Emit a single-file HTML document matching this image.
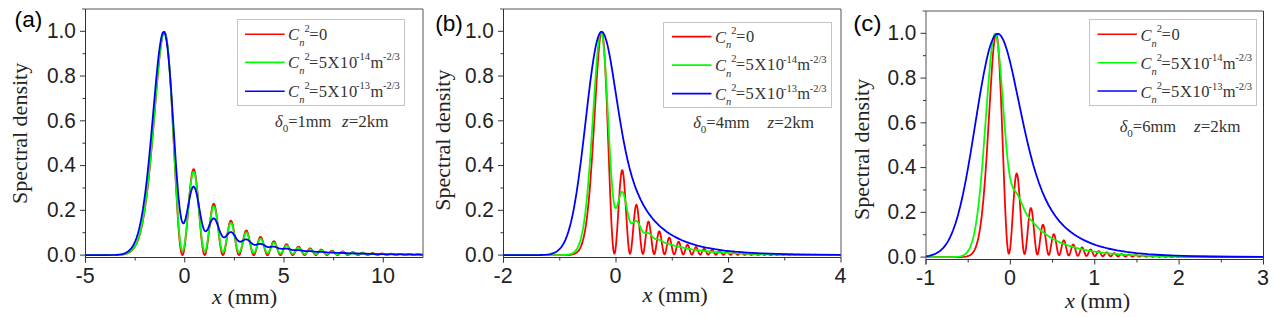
<!DOCTYPE html>
<html><head><meta charset="utf-8"><style>html,body{margin:0;padding:0;background:#fff;overflow:hidden;}svg{display:block;}</style></head>
<body>
<svg width="1276" height="317" viewBox="0 0 1276 317"><rect width="1276" height="317" fill="#fff"/><defs><clipPath id="clipa"><rect x="85.5" y="6.0" width="337.50" height="251.50"/></clipPath><clipPath id="clipb"><rect x="503.5" y="6.0" width="337.50" height="251.50"/></clipPath><clipPath id="clipc"><rect x="926.0" y="8.0" width="337.50" height="251.50"/></clipPath></defs>
<g clip-path="url(#clipa)" fill="none" stroke-width="1.8" stroke-linejoin="round">
<polyline stroke="#ff0000" points="85.50,255.10 108.50,255.09 116.50,254.97 119.50,254.82 122.00,254.59 124.00,254.28 126.00,253.79 128.00,253.05 130.00,251.94 131.50,250.78 133.00,249.24 134.50,247.22 136.00,244.62 137.50,241.29 138.50,238.60 139.50,235.47 140.50,231.87 141.50,227.73 142.50,223.00 144.50,211.64 146.50,197.47 148.50,180.35 150.50,160.35 152.50,137.92 157.50,78.04 159.50,57.06 161.00,44.51 162.00,38.22 162.50,35.81 163.00,33.94 163.50,32.64 164.00,31.93 164.50,31.84 165.00,32.40 165.50,33.62 166.00,35.52 166.50,38.11 167.50,45.35 168.00,50.00 169.00,61.28 170.00,75.04 171.50,99.65 176.00,186.53 178.00,220.47 179.00,233.92 180.00,244.33 180.50,248.28 181.00,251.34 181.50,253.50 182.00,254.75 182.50,255.09 183.00,254.55 183.50,253.14 184.00,250.91 185.00,244.23 186.50,229.78 189.50,194.78 190.50,184.58 191.50,176.51 192.00,173.48 192.50,171.22 193.00,169.75 193.50,169.13 194.00,169.36 194.50,170.44 195.00,172.36 196.00,178.55 197.50,192.70 200.50,228.35 201.50,238.87 202.50,247.21 203.00,250.35 203.50,252.73 204.00,254.29 204.50,255.04 205.00,254.95 205.50,254.07 206.00,252.42 206.50,250.08 207.50,243.62 210.50,218.19 211.50,211.05 212.00,208.24 212.50,206.07 213.00,204.59 213.50,203.84 214.00,203.86 214.50,204.63 215.00,206.13 215.50,208.33 216.00,211.15 217.00,218.32 219.50,239.71 220.50,247.00 221.50,252.23 222.00,253.89 222.50,254.85 223.00,255.09 223.50,254.63 224.00,253.50 224.50,251.75 225.00,249.46 226.00,243.65 228.00,230.44 229.00,225.05 229.50,223.04 230.00,221.60 230.50,220.77 231.00,220.59 231.50,221.07 232.00,222.18 232.50,223.88 233.00,226.11 234.00,231.78 236.00,244.82 237.00,250.23 237.50,252.29 238.00,253.82 238.50,254.76 239.00,255.10 239.50,254.83 240.00,253.98 240.50,252.60 241.00,250.77 242.00,246.09 243.50,238.27 244.50,233.91 245.00,232.29 245.50,231.15 246.00,230.54 246.50,230.49 247.00,230.99 247.50,232.03 248.50,235.48 251.00,247.86 252.00,251.99 252.50,253.49 253.00,254.52 253.50,255.04 254.00,255.04 254.50,254.53 255.00,253.55 256.00,250.44 258.00,242.29 259.00,238.95 259.50,237.79 260.00,237.07 260.50,236.81 261.00,237.03 261.50,237.71 262.00,238.82 262.50,240.30 265.00,250.08 266.00,253.22 266.50,254.27 267.00,254.91 267.50,255.10 268.00,254.85 268.50,254.19 269.00,253.16 270.00,250.27 271.50,245.27 272.50,242.63 273.00,241.76 273.50,241.27 274.00,241.18 274.50,241.51 275.00,242.21 275.50,243.27 276.50,246.13 278.00,251.03 279.00,253.62 279.50,254.47 280.00,254.97 280.50,255.09 281.00,254.84 281.50,254.24 282.00,253.33 284.50,246.84 285.00,245.77 285.50,244.95 286.00,244.44 286.50,244.27 287.00,244.46 287.50,244.98 288.00,245.80 288.50,246.87 291.00,253.23 291.50,254.13 292.00,254.75 292.50,255.07 293.00,255.05 293.50,254.72 294.00,254.10 294.50,253.25 297.00,247.94 297.50,247.21 298.00,246.74 298.50,246.56 299.00,246.68 299.50,247.09 300.00,247.76 303.00,253.83 303.50,254.51 304.00,254.94 304.50,255.10 305.00,254.98 305.50,254.59 306.00,253.97 308.50,249.58 309.00,248.92 309.50,248.48 310.00,248.28 310.50,248.34 311.00,248.66 311.50,249.20 312.00,249.93 314.00,253.49 314.50,254.20 315.00,254.72 315.50,255.03 316.00,255.09 316.50,254.92 317.00,254.52 317.50,253.95 319.50,250.93 320.00,250.32 320.50,249.87 321.00,249.63 321.50,249.60 322.00,249.81 322.50,250.21 323.00,250.79 325.00,253.75 325.50,254.35 326.00,254.79 326.50,255.05 327.00,255.09 327.50,254.93 328.00,254.58 328.50,254.08 330.50,251.55 331.00,251.07 331.50,250.75 332.00,250.61 332.50,250.67 333.00,250.91 334.00,251.86 336.00,254.32 336.50,254.74 337.00,255.01 337.50,255.10 338.00,255.01 338.50,254.75 339.50,253.84 341.00,252.22 342.00,251.53 342.50,251.41 343.00,251.46 343.50,251.68 344.00,252.04 346.50,254.55 347.00,254.88 347.50,255.06 348.00,255.09 348.50,254.96 349.00,254.69 351.50,252.53 352.50,252.08 353.00,252.06 353.50,252.19 354.00,252.45 356.50,254.57 357.50,255.05 358.00,255.10 359.00,254.79 361.50,252.95 362.50,252.58 363.00,252.58 364.00,252.94 366.50,254.74 367.50,255.09 368.50,254.96 369.00,254.74 371.50,253.19 372.50,252.98 373.50,253.20 375.50,254.44 376.50,254.95 377.50,255.10 378.50,254.84 381.00,253.51 382.00,253.32 383.00,253.51 385.50,254.82 386.50,255.09 387.50,255.00 390.00,253.88 391.00,253.61 391.50,253.60 392.50,253.82 395.00,254.94 396.00,255.10 397.00,254.94 399.50,253.96 400.50,253.82 401.50,253.98 404.00,254.95 405.00,255.10 406.00,254.97 408.50,254.13 409.50,254.02 410.50,254.16 412.50,254.85 413.50,255.08 414.50,255.06 417.50,254.24 418.50,254.18 419.50,254.35 421.50,254.95 423.00,255.09"/>
<polyline stroke="#00ff00" points="85.50,255.10 108.50,255.08 116.50,254.96 119.50,254.80 122.00,254.55 124.00,254.22 126.00,253.70 128.00,252.92 130.00,251.75 131.50,250.53 133.00,248.92 134.50,246.82 135.50,245.09 137.00,241.91 138.00,239.33 139.50,234.67 140.50,230.96 141.50,226.71 142.50,221.88 144.50,210.29 146.50,195.90 148.50,178.58 150.50,158.45 152.50,135.98 157.00,82.22 158.50,65.76 159.50,55.97 161.00,43.76 162.00,37.72 162.50,35.43 163.00,33.67 163.50,32.48 164.00,31.87 164.50,31.88 165.00,32.53 165.50,33.83 166.00,35.79 166.50,38.42 167.50,45.71 168.00,50.36 169.00,61.56 170.00,75.16 171.50,99.38 176.00,184.20 178.00,217.18 179.00,230.25 180.00,240.40 180.50,244.27 181.00,247.29 181.50,249.44 182.00,250.73 182.50,251.16 183.00,250.73 183.50,249.50 184.00,247.48 185.00,241.35 186.50,227.96 189.50,195.48 190.50,186.02 191.50,178.56 192.00,175.76 192.50,173.67 193.00,172.33 193.50,171.76 194.00,171.99 194.50,173.01 195.00,174.79 196.00,180.54 197.50,193.63 200.50,226.55 201.50,236.28 202.50,244.03 203.00,246.97 203.50,249.20 204.00,250.71 204.50,251.47 205.00,251.48 205.50,250.77 206.00,249.36 206.50,247.33 207.50,241.66 210.50,219.16 211.50,212.82 212.00,210.34 212.50,208.41 213.00,207.09 213.50,206.43 214.00,206.44 214.50,207.13 215.00,208.46 215.50,210.41 216.00,212.90 217.00,219.25 219.50,238.20 220.50,244.69 221.50,249.39 222.00,250.91 222.50,251.81 223.00,252.10 223.50,251.77 224.00,250.86 224.50,249.41 225.00,247.49 226.00,242.57 228.00,231.33 229.00,226.72 229.50,225.00 230.00,223.77 230.50,223.06 231.00,222.90 231.50,223.30 232.00,224.25 232.50,225.69 233.00,227.59 234.00,232.43 236.00,243.58 237.00,248.24 237.50,250.03 238.00,251.37 238.50,252.23 239.00,252.57 239.50,252.40 240.00,251.75 240.50,250.65 241.00,249.17 242.00,245.35 243.50,238.92 244.50,235.32 245.00,233.98 245.50,233.04 246.00,232.53 246.50,232.48 247.00,232.89 247.50,233.74 248.00,234.99 249.00,238.44 251.50,248.68 252.50,251.54 253.00,252.43 253.50,252.90 254.00,252.95 254.50,252.59 255.00,251.84 256.00,249.41 258.00,242.92 259.00,240.25 259.50,239.32 260.00,238.74 260.50,238.52 261.00,238.69 261.50,239.24 262.00,240.12 263.00,242.72 265.50,250.55 266.00,251.71 266.50,252.58 267.00,253.12 267.50,253.31 268.00,253.16 268.50,252.68 269.00,251.90 270.00,249.70 271.50,245.83 272.50,243.78 273.00,243.10 273.50,242.72 274.00,242.65 274.50,242.89 275.00,243.44 275.50,244.25 276.50,246.48 278.00,250.31 279.00,252.35 279.50,253.04 280.00,253.46 280.50,253.59 281.00,253.43 281.50,253.00 282.00,252.33 284.50,247.48 285.00,246.67 285.50,246.05 286.00,245.66 286.50,245.53 287.00,245.66 287.50,246.05 288.00,246.67 288.50,247.48 291.00,252.32 291.50,253.02 292.00,253.52 292.50,253.78 293.00,253.80 293.50,253.58 294.00,253.15 295.00,251.79 297.00,248.66 297.50,248.12 298.00,247.77 298.50,247.63 299.00,247.72 299.50,248.02 300.00,248.51 303.00,253.01 303.50,253.53 304.00,253.87 304.50,254.01 305.00,253.94 305.50,253.68 306.00,253.26 308.50,250.14 309.50,249.34 310.00,249.20 310.50,249.24 311.00,249.47 311.50,249.85 314.50,253.47 315.00,253.87 315.50,254.10 316.00,254.17 316.50,254.06 317.50,253.41 320.00,250.89 320.50,250.58 321.00,250.41 321.50,250.39 322.00,250.53 323.00,251.21 325.50,253.74 326.50,254.25 327.00,254.30 327.50,254.21 328.50,253.65 330.00,252.34 331.00,251.61 332.00,251.29 332.50,251.33 333.50,251.77 336.00,253.84 337.00,254.34 337.50,254.41 338.50,254.21 339.50,253.62 341.00,252.54 342.00,252.08 342.50,252.00 343.00,252.03 344.00,252.41 346.00,253.81 347.00,254.34 348.00,254.51 349.00,254.27 351.50,252.88 352.50,252.58 353.00,252.56 354.00,252.82 357.00,254.42 358.00,254.59 359.00,254.41 361.50,253.26 362.50,253.02 363.00,253.01 364.00,253.24 366.50,254.41 367.50,254.65 368.50,254.59 371.50,253.50 372.50,253.36 373.50,253.50 376.50,254.61 377.50,254.72 378.50,254.57 381.00,253.77 382.00,253.65 383.00,253.77 385.50,254.58 386.50,254.76 387.50,254.72 390.00,254.06 391.50,253.89 392.50,254.02 395.00,254.71 396.00,254.81 397.00,254.73 399.50,254.16 400.50,254.08 401.50,254.17 404.00,254.75 405.00,254.85 406.00,254.78 408.50,254.30 409.50,254.24 410.50,254.32 413.50,254.86 414.50,254.86 417.50,254.41 418.50,254.37 422.00,254.87 423.00,254.90"/>
<polyline stroke="#0000ff" points="85.50,255.10 106.50,255.08 114.50,254.93 117.50,254.75 120.00,254.47 122.00,254.11 124.00,253.56 126.00,252.75 128.00,251.55 129.50,250.31 131.00,248.70 132.50,246.63 134.00,243.98 135.50,240.65 136.50,237.98 138.00,233.20 139.00,229.43 141.00,220.34 143.00,208.91 145.00,194.91 147.00,178.26 149.00,159.10 151.00,137.84 156.00,81.42 157.50,65.97 158.50,56.72 160.00,45.03 161.00,39.04 162.00,34.73 162.50,33.27 163.00,32.30 163.50,31.84 164.00,31.90 164.50,32.51 165.00,33.66 165.50,35.36 166.50,40.43 167.00,43.79 168.00,52.09 169.50,68.21 171.00,88.04 176.00,164.92 178.00,191.56 179.50,206.95 180.50,214.52 181.50,219.77 182.00,221.52 182.50,222.69 183.00,223.31 183.50,223.39 184.00,222.96 184.50,222.06 185.50,219.03 187.00,212.17 190.00,196.06 191.00,191.72 192.00,188.57 192.50,187.52 193.00,186.86 193.50,186.60 194.00,186.74 194.50,187.29 195.00,188.23 195.50,189.54 196.50,193.20 197.50,197.98 200.50,215.21 202.00,222.88 203.00,226.83 203.50,228.36 204.00,229.58 204.50,230.48 205.00,231.05 205.50,231.30 206.00,231.26 206.50,230.93 207.00,230.36 208.00,228.60 210.50,222.61 211.50,220.50 212.50,219.03 213.00,218.60 213.50,218.39 214.00,218.41 214.50,218.68 215.00,219.17 215.50,219.88 216.50,221.89 217.50,224.48 220.00,231.69 221.50,235.12 222.50,236.60 223.00,237.05 223.50,237.32 224.00,237.41 224.50,237.32 225.00,237.08 226.00,236.24 228.00,233.87 229.00,232.84 230.00,232.18 230.50,232.03 231.00,232.03 231.50,232.16 232.00,232.44 233.00,233.37 234.00,234.72 236.50,238.75 237.50,240.11 238.50,241.10 239.50,241.64 240.00,241.74 241.00,241.63 242.00,241.20 244.50,239.73 245.50,239.39 246.50,239.37 247.50,239.68 248.50,240.32 252.00,243.57 253.00,244.27 254.00,244.71 254.50,244.82 255.50,244.84 256.50,244.65 259.00,243.90 260.00,243.77 261.00,243.84 262.50,244.34 266.50,246.62 268.00,247.07 269.50,247.12 272.50,246.70 274.00,246.68 275.50,246.97 279.00,248.30 280.50,248.70 282.00,248.84 285.50,248.64 287.00,248.70 288.50,248.97 292.00,249.87 293.50,250.08 299.00,250.11 304.50,250.99 306.00,251.09 310.50,251.15 316.50,251.81 321.50,251.92 327.50,252.42 332.50,252.53 338.00,252.89 343.00,253.00 348.50,253.27 378.00,254.03 423.00,254.62"/>
</g>
<line x1="82.0" y1="9.0" x2="423.0" y2="9.0" stroke="#555" stroke-width="1"/>
<line x1="423.0" y1="9.0" x2="423.0" y2="257.5" stroke="#555" stroke-width="1"/>
<line x1="85.5" y1="9.0" x2="85.5" y2="262.5" stroke="#333" stroke-width="1"/>
<line x1="85.5" y1="257.5" x2="423.0" y2="257.5" stroke="#333" stroke-width="1"/>
<line x1="80.0" y1="255.10" x2="85.5" y2="255.10" stroke="#333" stroke-width="1"/>
<text x="0" y="0" font-family="Liberation Sans" font-size="22.5" fill="#222" text-anchor="end" transform="translate(75.90 261.85) scale(0.925 1)">0.0</text>
<line x1="82.5" y1="232.72" x2="85.5" y2="232.72" stroke="#333" stroke-width="1"/>
<line x1="80.0" y1="210.34" x2="85.5" y2="210.34" stroke="#333" stroke-width="1"/>
<text x="0" y="0" font-family="Liberation Sans" font-size="22.5" fill="#222" text-anchor="end" transform="translate(75.90 217.09) scale(0.925 1)">0.2</text>
<line x1="82.5" y1="187.96" x2="85.5" y2="187.96" stroke="#333" stroke-width="1"/>
<line x1="80.0" y1="165.58" x2="85.5" y2="165.58" stroke="#333" stroke-width="1"/>
<text x="0" y="0" font-family="Liberation Sans" font-size="22.5" fill="#222" text-anchor="end" transform="translate(75.90 172.33) scale(0.925 1)">0.4</text>
<line x1="82.5" y1="143.20" x2="85.5" y2="143.20" stroke="#333" stroke-width="1"/>
<line x1="80.0" y1="120.82" x2="85.5" y2="120.82" stroke="#333" stroke-width="1"/>
<text x="0" y="0" font-family="Liberation Sans" font-size="22.5" fill="#222" text-anchor="end" transform="translate(75.90 127.57) scale(0.925 1)">0.6</text>
<line x1="82.5" y1="98.44" x2="85.5" y2="98.44" stroke="#333" stroke-width="1"/>
<line x1="80.0" y1="76.06" x2="85.5" y2="76.06" stroke="#333" stroke-width="1"/>
<text x="0" y="0" font-family="Liberation Sans" font-size="22.5" fill="#222" text-anchor="end" transform="translate(75.90 82.81) scale(0.925 1)">0.8</text>
<line x1="82.5" y1="53.68" x2="85.5" y2="53.68" stroke="#333" stroke-width="1"/>
<line x1="80.0" y1="31.30" x2="85.5" y2="31.30" stroke="#333" stroke-width="1"/>
<text x="0" y="0" font-family="Liberation Sans" font-size="22.5" fill="#222" text-anchor="end" transform="translate(75.90 38.05) scale(0.925 1)">1.0</text>
<line x1="85.50" y1="257.5" x2="85.50" y2="262.5" stroke="#333" stroke-width="1"/>
<line x1="184.76" y1="257.5" x2="184.76" y2="262.5" stroke="#333" stroke-width="1"/>
<line x1="284.03" y1="257.5" x2="284.03" y2="262.5" stroke="#333" stroke-width="1"/>
<line x1="383.29" y1="257.5" x2="383.29" y2="262.5" stroke="#333" stroke-width="1"/>
<line x1="135.13" y1="257.5" x2="135.13" y2="260.5" stroke="#333" stroke-width="1"/>
<line x1="234.40" y1="257.5" x2="234.40" y2="260.5" stroke="#333" stroke-width="1"/>
<line x1="333.66" y1="257.5" x2="333.66" y2="260.5" stroke="#333" stroke-width="1"/>
<text x="85.10" y="282.80" font-family="Liberation Sans" font-size="21.5" fill="#222" text-anchor="middle">-5</text>
<text x="184.36" y="282.80" font-family="Liberation Sans" font-size="21.5" fill="#222" text-anchor="middle">0</text>
<text x="283.63" y="282.80" font-family="Liberation Sans" font-size="21.5" fill="#222" text-anchor="middle">5</text>
<text x="382.89" y="282.80" font-family="Liberation Sans" font-size="21.5" fill="#222" text-anchor="middle">10</text>
<text x="0" y="0" font-family="Liberation Sans" font-size="22" transform="translate(14.6 27.0) scale(1.03 1)">(a)</text>
<text x="0" y="0" font-family="Liberation Serif" font-size="22" fill="#222" text-anchor="middle" transform="translate(27.2 133.4) rotate(-90)">Spectral density</text>
<text x="0" y="0" font-family="Liberation Serif" font-size="22" fill="#222" transform="translate(212.0 304.1) scale(1.015 1)"><tspan font-style="italic">x</tspan> (mm)</text>
<rect x="237.5" y="19.5" width="167.00" height="86.00" fill="#fff" stroke="#c4c4c4" stroke-width="1"/>
<line x1="245" y1="34.3" x2="284.7" y2="34.3" stroke="#ff0000" stroke-width="1.6"/>
<text font-family="Liberation Serif" font-size="16.5" fill="#333"><tspan font-style="italic" x="288.08" y="40.30">C</tspan><tspan font-style="italic" font-size="10.5" x="299.22" y="46.10">n</tspan><tspan font-size="10.5" x="304.54" y="31.50">2</tspan><tspan x="309.28" y="39.60" letter-spacing="0.55">=0</tspan></text>
<line x1="245" y1="62.4" x2="284.7" y2="62.4" stroke="#00ff00" stroke-width="1.6"/>
<text font-family="Liberation Serif" font-size="16.5" fill="#333"><tspan font-style="italic" x="288.08" y="68.40">C</tspan><tspan font-style="italic" font-size="10.5" x="299.22" y="74.20">n</tspan><tspan font-size="10.5" x="304.54" y="59.60">2</tspan><tspan x="308.98" y="67.70" letter-spacing="0.55">=5X10</tspan><tspan font-size="10.5" x="356.11" y="60.40">-14</tspan><tspan x="370.45" y="67.70">m</tspan><tspan font-size="10.5" x="382.91" y="60.40">-2/3</tspan></text>
<line x1="245" y1="91.3" x2="284.7" y2="91.3" stroke="#0000ff" stroke-width="1.6"/>
<text font-family="Liberation Serif" font-size="16.5" fill="#333"><tspan font-style="italic" x="288.08" y="97.30">C</tspan><tspan font-style="italic" font-size="10.5" x="299.22" y="103.10">n</tspan><tspan font-size="10.5" x="304.54" y="88.50">2</tspan><tspan x="308.98" y="96.60" letter-spacing="0.55">=5X10</tspan><tspan font-size="10.5" x="356.11" y="89.30">-13</tspan><tspan x="370.45" y="96.60">m</tspan><tspan font-size="10.5" x="382.91" y="89.30">-2/3</tspan></text>
<text x="275.0" y="126.8" font-family="Liberation Serif" font-size="16.5" fill="#333"><tspan font-style="italic">δ</tspan><tspan font-size="11" dy="5">0</tspan><tspan dy="-5">=1mm</tspan></text>
<text x="0" y="0" font-family="Liberation Serif" font-size="16.5" fill="#333" transform="translate(342.0 126.8) scale(1.035 1)"><tspan font-style="italic">z</tspan>=2km</text>
<g clip-path="url(#clipb)" fill="none" stroke-width="1.8" stroke-linejoin="round">
<polyline stroke="#ff0000" points="503.50,255.10 562.00,255.09 567.00,255.01 570.50,254.78 572.50,254.45 574.00,254.03 575.50,253.37 577.00,252.34 578.00,251.37 579.00,250.10 580.00,248.45 581.00,246.34 582.00,243.66 583.00,240.29 584.00,236.10 585.00,230.95 586.00,224.71 587.00,217.24 588.50,203.46 590.00,186.38 592.00,158.49 597.00,75.00 598.50,53.40 599.50,42.31 600.00,38.08 600.50,34.86 601.00,32.75 601.50,31.83 602.00,32.18 602.50,33.85 603.00,36.89 603.50,41.31 604.00,47.10 605.00,62.72 606.50,95.01 610.00,189.71 611.50,224.28 612.50,240.86 613.00,246.71 613.50,250.81 614.00,253.11 614.50,253.60 615.00,252.33 615.50,249.42 616.00,244.99 617.00,232.45 619.00,200.27 620.00,185.60 621.00,175.03 621.50,171.85 622.00,170.26 622.50,170.35 623.00,172.12 623.50,175.49 624.00,180.36 625.00,193.71 627.00,226.65 628.00,240.85 628.50,246.30 629.00,250.36 629.50,252.87 630.00,253.77 630.50,253.08 631.00,250.89 631.50,247.36 632.50,237.30 634.00,219.59 635.00,210.10 635.50,206.96 636.00,205.15 636.50,204.79 637.00,205.90 637.50,208.41 638.00,212.17 639.00,222.47 640.50,240.02 641.50,249.12 642.00,252.04 642.50,253.65 643.00,253.89 643.50,252.80 644.00,250.49 644.50,247.18 646.50,229.92 647.00,226.30 647.50,223.56 648.00,221.91 648.50,221.48 649.00,222.29 649.50,224.29 650.50,231.12 652.50,248.03 653.00,251.07 653.50,253.13 654.00,254.07 654.50,253.86 655.00,252.56 655.50,250.31 657.50,237.18 658.00,234.41 658.50,232.41 659.00,231.36 659.50,231.35 660.00,232.37 660.50,234.34 661.00,237.07 662.50,247.09 663.00,250.04 663.50,252.33 664.00,253.78 664.50,254.28 665.00,253.81 665.50,252.46 666.00,250.39 668.00,240.14 668.50,238.47 669.00,237.59 669.50,237.59 670.00,238.46 670.50,240.11 672.50,250.21 673.00,252.28 673.50,253.71 674.00,254.37 674.50,254.20 675.00,253.26 675.50,251.69 677.50,243.57 678.00,242.33 678.50,241.77 679.00,241.96 679.50,242.87 680.00,244.40 682.00,252.42 682.50,253.74 683.00,254.42 683.50,254.41 684.00,253.74 684.50,252.51 686.00,247.42 686.50,246.02 687.00,245.10 687.50,244.78 688.00,245.09 688.50,246.00 689.00,247.37 690.50,252.39 691.00,253.64 691.50,254.40 692.00,254.58 692.50,254.18 693.00,253.27 695.00,248.00 695.50,247.24 696.00,246.99 696.50,247.28 697.00,248.07 699.00,253.28 699.50,254.18 700.00,254.63 700.50,254.57 701.00,254.04 701.50,253.13 703.00,249.75 703.50,249.00 704.00,248.66 704.50,248.78 705.00,249.34 705.50,250.26 707.00,253.58 707.50,254.33 708.00,254.70 708.50,254.63 709.00,254.17 711.00,250.63 711.50,250.08 712.00,249.91 712.50,250.13 713.00,250.71 715.00,254.20 715.50,254.66 716.00,254.77 716.50,254.51 717.00,253.94 718.50,251.62 719.00,251.10 719.50,250.89 720.00,251.02 720.50,251.46 722.50,254.35 723.00,254.74 723.50,254.81 724.00,254.57 724.50,254.08 726.00,252.15 726.50,251.77 727.00,251.66 727.50,251.84 728.00,252.27 729.50,254.19 730.00,254.64 730.50,254.85 731.00,254.78 731.50,254.47 733.00,252.85 733.50,252.45 734.00,252.27 734.50,252.34 735.00,252.64 736.50,254.23 737.00,254.65 737.50,254.87 738.00,254.85 738.50,254.61 740.00,253.25 740.50,252.91 741.00,252.75 741.50,252.81 742.00,253.08 743.50,254.43 744.00,254.76 744.50,254.91 745.00,254.86 745.50,254.62 747.00,253.46 747.50,253.22 748.00,253.14 748.50,253.26 749.00,253.53 750.50,254.67 751.00,254.89 751.50,254.93 752.00,254.81 752.50,254.54 754.00,253.59 754.50,253.46 755.00,253.50 755.50,253.70 757.00,254.67 757.50,254.88 758.00,254.96 758.50,254.88 760.50,253.85 761.00,253.73 761.50,253.75 762.00,253.90 763.50,254.73 764.00,254.92 764.50,254.98 765.00,254.90 766.50,254.22 767.50,253.94 768.50,254.12 770.00,254.83 771.00,254.99 771.50,254.89 773.00,254.29 774.00,254.11 775.00,254.35 776.50,254.93 777.00,255.00 777.50,254.97 779.50,254.33 780.00,254.26 781.00,254.40 782.50,254.92 783.00,255.01 784.00,254.92 786.00,254.39 787.00,254.48 789.00,255.01 790.00,254.95 792.00,254.49 793.00,254.57 795.00,255.03 796.00,254.96 798.00,254.57 799.00,254.67 801.00,255.04 804.00,254.65 807.00,255.05 809.50,254.71 812.50,255.05 815.50,254.76 818.00,255.05 821.00,254.81 823.50,255.06 826.50,254.85 829.00,255.06 832.00,254.88 834.50,255.07 837.50,254.91 840.00,255.07 841.00,255.04"/>
<polyline stroke="#00ff00" points="503.50,255.10 558.50,255.09 564.00,254.99 567.50,254.73 569.50,254.40 571.00,253.98 572.50,253.33 574.00,252.36 575.50,250.92 576.50,249.62 577.50,247.96 578.50,245.88 580.00,241.76 581.00,238.21 582.00,233.89 583.00,228.71 584.00,222.55 585.00,215.30 586.50,202.24 588.00,186.41 590.00,161.07 591.50,139.40 595.00,85.41 597.00,58.07 598.00,47.13 599.00,38.79 599.50,35.75 600.00,33.54 600.50,32.21 601.00,31.80 601.50,32.34 602.00,33.85 602.50,36.33 603.50,44.17 604.50,55.63 605.50,70.27 606.50,87.42 609.50,144.88 611.00,170.78 612.50,190.80 613.50,199.99 614.00,203.26 614.50,205.65 615.00,207.22 615.50,208.00 616.00,208.07 616.50,207.53 617.00,206.46 617.50,204.98 619.50,197.30 620.50,193.98 621.00,192.79 621.50,192.00 622.00,191.66 622.50,191.79 623.00,192.40 623.50,193.46 624.50,196.85 625.50,201.50 628.00,214.53 629.00,218.67 630.00,221.55 630.50,222.49 631.00,223.08 631.50,223.38 632.00,223.40 632.50,223.21 633.00,222.86 634.50,221.46 635.50,220.83 636.00,220.75 636.50,220.85 637.00,221.16 637.50,221.67 638.50,223.23 641.50,229.71 642.50,231.41 643.00,232.04 643.50,232.51 644.50,233.04 645.50,233.12 647.50,232.92 648.50,233.10 649.00,233.32 649.50,233.63 650.50,234.51 653.50,237.80 655.00,238.86 656.00,239.22 658.50,239.56 659.50,239.81 661.00,240.50 663.50,242.11 665.00,242.88 666.50,243.34 670.00,244.05 673.50,245.42 675.00,245.91 679.50,246.78 684.00,247.96 693.00,249.53 702.00,250.75 709.00,251.51 716.50,252.16 730.50,253.08 744.50,253.70 762.00,254.21 783.00,254.58 808.50,254.83 841.00,254.98"/>
<polyline stroke="#0000ff" points="503.50,255.10 531.00,255.09 540.00,255.00 543.50,254.87 546.50,254.64 549.00,254.31 551.00,253.91 553.50,253.13 555.50,252.21 557.50,250.93 559.50,249.18 561.00,247.47 562.50,245.35 564.00,242.75 565.50,239.61 567.00,235.83 568.50,231.36 570.00,226.10 571.00,222.14 572.50,215.45 574.00,207.85 576.50,193.11 578.50,179.49 581.00,160.43 583.50,139.64 588.50,96.41 590.50,80.11 592.50,65.35 594.50,52.72 595.50,47.39 596.50,42.77 598.00,37.31 599.00,34.68 600.00,32.90 600.50,32.32 601.00,31.96 601.50,31.81 602.00,31.86 602.50,32.12 603.00,32.59 604.00,34.12 605.00,36.40 606.50,41.16 607.50,45.13 608.50,49.67 610.00,57.39 612.00,69.00 619.50,117.06 623.00,137.57 625.50,150.49 627.50,159.71 629.50,167.94 632.00,176.97 634.50,184.75 636.00,188.90 637.50,192.70 640.50,199.44 643.50,205.22 647.00,210.99 649.00,213.90 651.00,216.58 653.00,219.04 655.00,221.32 657.00,223.43 659.50,225.85 662.00,228.06 664.50,230.07 667.00,231.92 670.00,233.93 673.00,235.76 676.00,237.40 679.00,238.90 682.50,240.47 686.00,241.87 689.50,243.13 693.50,244.41 697.50,245.55 701.50,246.56 706.00,247.56 715.00,249.21 724.50,250.54 735.50,251.70 747.50,252.62 761.00,253.36 776.50,253.93 794.00,254.35 815.00,254.66 841.00,254.87"/>
</g>
<line x1="500.0" y1="9.0" x2="841.0" y2="9.0" stroke="#555" stroke-width="1"/>
<line x1="841.0" y1="9.0" x2="841.0" y2="257.5" stroke="#555" stroke-width="1"/>
<line x1="503.5" y1="9.0" x2="503.5" y2="262.5" stroke="#333" stroke-width="1"/>
<line x1="503.5" y1="257.5" x2="841.0" y2="257.5" stroke="#333" stroke-width="1"/>
<line x1="498.0" y1="255.10" x2="503.5" y2="255.10" stroke="#333" stroke-width="1"/>
<text x="0" y="0" font-family="Liberation Sans" font-size="22.5" fill="#222" text-anchor="end" transform="translate(493.90 261.85) scale(0.925 1)">0.0</text>
<line x1="500.5" y1="232.72" x2="503.5" y2="232.72" stroke="#333" stroke-width="1"/>
<line x1="498.0" y1="210.34" x2="503.5" y2="210.34" stroke="#333" stroke-width="1"/>
<text x="0" y="0" font-family="Liberation Sans" font-size="22.5" fill="#222" text-anchor="end" transform="translate(493.90 217.09) scale(0.925 1)">0.2</text>
<line x1="500.5" y1="187.96" x2="503.5" y2="187.96" stroke="#333" stroke-width="1"/>
<line x1="498.0" y1="165.58" x2="503.5" y2="165.58" stroke="#333" stroke-width="1"/>
<text x="0" y="0" font-family="Liberation Sans" font-size="22.5" fill="#222" text-anchor="end" transform="translate(493.90 172.33) scale(0.925 1)">0.4</text>
<line x1="500.5" y1="143.20" x2="503.5" y2="143.20" stroke="#333" stroke-width="1"/>
<line x1="498.0" y1="120.82" x2="503.5" y2="120.82" stroke="#333" stroke-width="1"/>
<text x="0" y="0" font-family="Liberation Sans" font-size="22.5" fill="#222" text-anchor="end" transform="translate(493.90 127.57) scale(0.925 1)">0.6</text>
<line x1="500.5" y1="98.44" x2="503.5" y2="98.44" stroke="#333" stroke-width="1"/>
<line x1="498.0" y1="76.06" x2="503.5" y2="76.06" stroke="#333" stroke-width="1"/>
<text x="0" y="0" font-family="Liberation Sans" font-size="22.5" fill="#222" text-anchor="end" transform="translate(493.90 82.81) scale(0.925 1)">0.8</text>
<line x1="500.5" y1="53.68" x2="503.5" y2="53.68" stroke="#333" stroke-width="1"/>
<line x1="498.0" y1="31.30" x2="503.5" y2="31.30" stroke="#333" stroke-width="1"/>
<text x="0" y="0" font-family="Liberation Sans" font-size="22.5" fill="#222" text-anchor="end" transform="translate(493.90 38.05) scale(0.925 1)">1.0</text>
<line x1="503.50" y1="257.5" x2="503.50" y2="262.5" stroke="#333" stroke-width="1"/>
<line x1="616.00" y1="257.5" x2="616.00" y2="262.5" stroke="#333" stroke-width="1"/>
<line x1="728.50" y1="257.5" x2="728.50" y2="262.5" stroke="#333" stroke-width="1"/>
<line x1="841.00" y1="257.5" x2="841.00" y2="262.5" stroke="#333" stroke-width="1"/>
<line x1="559.75" y1="257.5" x2="559.75" y2="260.5" stroke="#333" stroke-width="1"/>
<line x1="672.25" y1="257.5" x2="672.25" y2="260.5" stroke="#333" stroke-width="1"/>
<line x1="784.75" y1="257.5" x2="784.75" y2="260.5" stroke="#333" stroke-width="1"/>
<text x="503.10" y="282.80" font-family="Liberation Sans" font-size="21.5" fill="#222" text-anchor="middle">-2</text>
<text x="615.60" y="282.80" font-family="Liberation Sans" font-size="21.5" fill="#222" text-anchor="middle">0</text>
<text x="728.10" y="282.80" font-family="Liberation Sans" font-size="21.5" fill="#222" text-anchor="middle">2</text>
<text x="840.60" y="282.80" font-family="Liberation Sans" font-size="21.5" fill="#222" text-anchor="middle">4</text>
<text x="0" y="0" font-family="Liberation Sans" font-size="22" transform="translate(435.2 31.4) scale(1.03 1)">(b)</text>
<text x="0" y="0" font-family="Liberation Serif" font-size="22" fill="#222" text-anchor="middle" transform="translate(449.5 140.1) rotate(-90)">Spectral density</text>
<text x="0" y="0" font-family="Liberation Serif" font-size="22" fill="#222" transform="translate(642.6 301.9) scale(1.015 1)"><tspan font-style="italic">x</tspan> (mm)</text>
<rect x="663.5" y="22.5" width="168.00" height="85.00" fill="#fff" stroke="#c4c4c4" stroke-width="1"/>
<line x1="672" y1="36.6" x2="711.5" y2="36.6" stroke="#ff0000" stroke-width="1.6"/>
<text font-family="Liberation Serif" font-size="16.5" fill="#333"><tspan font-style="italic" x="714.88" y="42.60">C</tspan><tspan font-style="italic" font-size="10.5" x="726.02" y="48.40">n</tspan><tspan font-size="10.5" x="731.34" y="33.80">2</tspan><tspan x="736.07" y="41.90" letter-spacing="0.55">=0</tspan></text>
<line x1="672" y1="65.1" x2="711.5" y2="65.1" stroke="#00ff00" stroke-width="1.6"/>
<text font-family="Liberation Serif" font-size="16.5" fill="#333"><tspan font-style="italic" x="714.88" y="71.10">C</tspan><tspan font-style="italic" font-size="10.5" x="726.02" y="76.90">n</tspan><tspan font-size="10.5" x="731.34" y="62.30">2</tspan><tspan x="735.77" y="70.40" letter-spacing="0.55">=5X10</tspan><tspan font-size="10.5" x="782.91" y="63.10">-14</tspan><tspan x="797.25" y="70.40">m</tspan><tspan font-size="10.5" x="809.71" y="63.10">-2/3</tspan></text>
<line x1="672" y1="93.6" x2="711.5" y2="93.6" stroke="#0000ff" stroke-width="1.6"/>
<text font-family="Liberation Serif" font-size="16.5" fill="#333"><tspan font-style="italic" x="714.88" y="99.60">C</tspan><tspan font-style="italic" font-size="10.5" x="726.02" y="105.40">n</tspan><tspan font-size="10.5" x="731.34" y="90.80">2</tspan><tspan x="735.77" y="98.90" letter-spacing="0.55">=5X10</tspan><tspan font-size="10.5" x="782.91" y="91.60">-13</tspan><tspan x="797.25" y="98.90">m</tspan><tspan font-size="10.5" x="809.71" y="91.60">-2/3</tspan></text>
<text x="693.2" y="128.3" font-family="Liberation Serif" font-size="16.5" fill="#333"><tspan font-style="italic">δ</tspan><tspan font-size="11" dy="5">0</tspan><tspan dy="-5">=4mm</tspan></text>
<text x="0" y="0" font-family="Liberation Serif" font-size="16.5" fill="#333" transform="translate(767.5 128.3) scale(1.035 1)"><tspan font-style="italic">z</tspan>=2km</text>
<g clip-path="url(#clipc)" fill="none" stroke-width="1.8" stroke-linejoin="round">
<polyline stroke="#ff0000" points="926.00,257.10 959.50,257.05 964.00,256.85 967.00,256.40 968.50,255.95 970.00,255.25 971.50,254.16 972.50,253.14 973.50,251.80 974.50,250.08 975.50,247.87 976.50,245.08 977.50,241.58 978.50,237.24 980.00,228.88 981.00,221.86 982.00,213.53 983.50,198.39 985.00,179.93 986.50,158.29 991.00,83.11 992.50,60.51 993.50,48.30 994.50,39.35 995.00,36.36 995.50,34.49 996.00,33.80 996.50,34.38 997.00,36.26 997.50,39.50 998.00,44.09 998.50,50.05 999.50,65.88 1001.00,98.23 1004.50,191.70 1005.50,215.29 1006.50,234.23 1007.00,241.51 1007.50,247.15 1008.00,251.08 1008.50,253.25 1009.00,253.66 1009.50,252.38 1010.00,249.50 1010.50,245.17 1011.50,232.99 1013.50,201.98 1014.50,187.95 1015.00,182.32 1015.50,177.92 1016.00,174.94 1016.50,173.50 1017.00,173.67 1017.50,175.44 1018.00,178.75 1018.50,183.48 1019.50,196.37 1021.50,228.00 1022.50,241.61 1023.00,246.84 1023.50,250.73 1024.00,253.16 1024.50,254.06 1025.00,253.44 1025.50,251.41 1026.00,248.11 1027.00,238.66 1028.50,222.01 1029.50,213.07 1030.00,210.10 1030.50,208.39 1031.00,208.04 1031.50,209.06 1032.00,211.40 1032.50,214.91 1033.50,224.57 1035.00,241.09 1036.00,249.73 1036.50,252.55 1037.00,254.15 1037.50,254.48 1038.00,253.56 1038.50,251.51 1039.00,248.50 1041.00,232.61 1041.50,229.22 1042.00,226.64 1042.50,225.05 1043.00,224.58 1043.50,225.26 1044.00,227.03 1044.50,229.76 1047.00,248.92 1047.50,251.81 1048.00,253.82 1048.50,254.82 1049.00,254.76 1049.50,253.69 1050.00,251.74 1050.50,249.12 1052.00,239.88 1052.50,237.31 1053.00,235.41 1053.50,234.36 1054.00,234.24 1054.50,235.08 1055.00,236.78 1055.50,239.18 1057.50,251.03 1058.00,253.21 1058.50,254.65 1059.00,255.25 1059.50,254.97 1060.00,253.89 1060.50,252.13 1062.50,242.95 1063.00,241.37 1063.50,240.47 1064.00,240.35 1064.50,241.01 1065.00,242.39 1067.50,253.33 1068.00,254.73 1068.50,255.46 1069.00,255.46 1069.50,254.76 1070.00,253.48 1072.00,246.31 1072.50,245.12 1073.00,244.51 1073.50,244.55 1074.00,245.24 1074.50,246.49 1075.00,248.16 1076.50,253.61 1077.00,254.88 1077.50,255.62 1078.00,255.76 1078.50,255.31 1079.00,254.35 1081.00,248.69 1081.50,247.78 1082.00,247.38 1082.50,247.53 1083.00,248.21 1083.50,249.33 1085.00,253.71 1085.50,254.90 1086.00,255.69 1086.50,255.98 1087.00,255.77 1087.50,255.10 1089.50,250.59 1090.00,249.84 1090.50,249.51 1091.00,249.64 1091.50,250.21 1092.00,251.14 1093.50,254.66 1094.00,255.54 1094.50,256.04 1095.00,256.13 1095.50,255.80 1096.00,255.11 1097.50,252.25 1098.00,251.53 1098.50,251.13 1099.00,251.12 1099.50,251.49 1100.00,252.19 1101.50,255.04 1102.00,255.77 1102.50,256.20 1103.00,256.27 1103.50,255.99 1104.00,255.41 1105.50,253.08 1106.00,252.54 1106.50,252.29 1107.00,252.37 1107.50,252.77 1109.50,255.71 1110.00,256.20 1110.50,256.40 1111.00,256.29 1111.50,255.91 1113.00,254.01 1113.50,253.51 1114.00,253.24 1114.50,253.24 1115.00,253.52 1115.50,254.03 1117.00,255.92 1117.50,256.33 1118.00,256.50 1118.50,256.40 1119.00,256.08 1120.50,254.50 1121.00,254.12 1121.50,253.94 1122.00,253.99 1122.50,254.28 1124.50,256.27 1125.00,256.53 1125.50,256.57 1126.00,256.40 1126.50,256.05 1128.00,254.77 1128.50,254.54 1129.00,254.51 1129.50,254.68 1130.00,255.02 1131.50,256.32 1132.00,256.58 1132.50,256.65 1133.00,256.54 1133.50,256.27 1135.00,255.19 1135.50,254.99 1136.00,254.96 1136.50,255.11 1137.00,255.39 1138.50,256.47 1139.00,256.67 1139.50,256.71 1140.00,256.59 1141.50,255.70 1142.50,255.33 1143.00,255.35 1143.50,255.51 1145.00,256.42 1146.00,256.76 1146.50,256.73 1147.00,256.57 1148.50,255.80 1149.50,255.62 1150.00,255.71 1152.00,256.67 1152.50,256.79 1153.50,256.68 1155.00,256.04 1156.00,255.85 1156.50,255.92 1158.50,256.72 1159.00,256.83 1160.00,256.74 1161.50,256.19 1162.50,256.05 1163.50,256.27 1165.00,256.80 1165.50,256.87 1166.50,256.75 1168.50,256.22 1169.50,256.32 1171.00,256.78 1172.00,256.90 1174.00,256.46 1175.00,256.35 1178.00,256.93 1181.00,256.46 1184.00,256.95 1187.00,256.55 1190.00,256.97 1193.00,256.63 1196.00,256.98 1199.00,256.70 1201.50,256.99 1204.50,256.76 1207.50,257.01 1210.50,256.81 1213.00,257.02 1216.00,256.84 1218.50,257.03 1221.50,256.88 1224.00,257.03 1227.00,256.91 1229.50,257.04 1232.50,256.93 1235.00,257.05 1237.50,256.95 1240.50,257.06 1243.00,256.97 1245.50,257.06 1248.00,256.99 1251.00,257.06 1263.50,257.03"/>
<polyline stroke="#00ff00" points="926.00,257.10 947.50,257.09 954.00,257.00 958.50,256.67 960.50,256.32 962.00,255.89 963.50,255.26 965.00,254.35 966.50,253.03 967.50,251.86 969.00,249.56 970.00,247.56 971.00,245.13 972.00,242.18 973.00,238.64 974.00,234.43 975.50,226.69 976.50,220.47 977.50,213.33 979.00,200.80 980.50,186.02 982.50,163.00 988.50,82.48 990.50,59.11 992.00,45.65 993.00,39.26 993.50,36.94 994.00,35.25 994.50,34.20 995.00,33.80 995.50,34.08 996.00,35.02 996.50,36.63 997.00,38.88 998.00,45.28 999.00,53.96 1000.00,64.59 1001.00,76.74 1004.50,123.94 1006.50,148.26 1007.50,158.45 1008.50,167.06 1009.50,174.06 1010.00,176.98 1011.00,181.72 1012.00,185.22 1013.00,187.73 1014.00,189.56 1017.00,193.72 1018.50,196.24 1020.50,200.50 1024.50,210.08 1026.00,213.10 1027.00,214.81 1028.00,216.31 1029.50,218.24 1036.50,226.19 1039.00,228.81 1041.50,231.04 1044.50,233.35 1048.00,235.84 1050.50,237.47 1053.00,238.93 1056.50,240.75 1060.00,242.39 1063.50,243.85 1067.00,245.14 1071.00,246.46 1075.00,247.62 1079.00,248.64 1083.50,249.65 1088.00,250.53 1093.00,251.38 1103.50,252.81 1114.50,253.91 1127.00,254.82 1141.50,255.54 1158.00,256.08 1177.00,256.47 1199.50,256.75 1263.50,257.03"/>
<polyline stroke="#0000ff" points="926.00,256.26 929.00,255.77 931.50,255.16 934.00,254.33 936.00,253.45 938.00,252.33 940.00,250.93 942.00,249.18 943.50,247.60 945.50,245.11 947.00,242.89 948.50,240.36 950.00,237.47 951.50,234.21 953.00,230.53 955.50,223.44 958.00,215.04 960.50,205.30 963.00,194.19 966.00,179.15 968.00,168.18 970.50,153.60 978.50,103.93 981.00,88.94 984.00,72.35 986.50,60.21 988.00,53.85 989.50,48.28 991.00,43.55 992.50,39.72 994.00,36.82 995.00,35.43 995.50,34.89 996.50,34.14 997.00,33.92 998.00,33.81 999.00,34.13 999.50,34.44 1000.50,35.37 1001.50,36.70 1003.00,39.41 1004.00,41.66 1005.50,45.67 1006.50,48.74 1008.00,53.85 1010.50,63.58 1013.00,74.47 1023.50,124.51 1026.00,135.85 1028.50,146.56 1031.00,156.53 1033.50,165.71 1036.00,174.08 1039.00,183.08 1042.00,191.02 1045.00,197.98 1048.50,205.01 1052.00,211.04 1055.50,216.23 1057.50,218.87 1059.50,221.31 1063.50,225.63 1065.50,227.56 1068.00,229.78 1070.50,231.80 1073.50,234.00 1076.50,235.99 1079.50,237.79 1082.50,239.41 1085.50,240.89 1089.00,242.44 1092.50,243.84 1096.00,245.09 1100.00,246.36 1104.00,247.49 1108.00,248.50 1117.00,250.37 1126.50,251.89 1136.50,253.11 1148.00,254.15 1161.00,255.00 1175.50,255.66 1192.00,256.15 1211.50,256.52 1234.50,256.77 1263.50,256.94"/>
</g>
<line x1="922.5" y1="11.0" x2="1263.5" y2="11.0" stroke="#555" stroke-width="1"/>
<line x1="1263.5" y1="11.0" x2="1263.5" y2="259.5" stroke="#333" stroke-width="1"/>
<line x1="926.0" y1="11.0" x2="926.0" y2="264.5" stroke="#555" stroke-width="1"/>
<line x1="926.0" y1="259.5" x2="1263.5" y2="259.5" stroke="#333" stroke-width="1"/>
<line x1="920.5" y1="257.10" x2="926.0" y2="257.10" stroke="#333" stroke-width="1"/>
<text x="0" y="0" font-family="Liberation Sans" font-size="22.5" fill="#222" text-anchor="end" transform="translate(916.40 263.85) scale(0.925 1)">0.0</text>
<line x1="923.0" y1="234.72" x2="926.0" y2="234.72" stroke="#333" stroke-width="1"/>
<line x1="920.5" y1="212.34" x2="926.0" y2="212.34" stroke="#333" stroke-width="1"/>
<text x="0" y="0" font-family="Liberation Sans" font-size="22.5" fill="#222" text-anchor="end" transform="translate(916.40 219.09) scale(0.925 1)">0.2</text>
<line x1="923.0" y1="189.96" x2="926.0" y2="189.96" stroke="#333" stroke-width="1"/>
<line x1="920.5" y1="167.58" x2="926.0" y2="167.58" stroke="#333" stroke-width="1"/>
<text x="0" y="0" font-family="Liberation Sans" font-size="22.5" fill="#222" text-anchor="end" transform="translate(916.40 174.33) scale(0.925 1)">0.4</text>
<line x1="923.0" y1="145.20" x2="926.0" y2="145.20" stroke="#333" stroke-width="1"/>
<line x1="920.5" y1="122.82" x2="926.0" y2="122.82" stroke="#333" stroke-width="1"/>
<text x="0" y="0" font-family="Liberation Sans" font-size="22.5" fill="#222" text-anchor="end" transform="translate(916.40 129.57) scale(0.925 1)">0.6</text>
<line x1="923.0" y1="100.44" x2="926.0" y2="100.44" stroke="#333" stroke-width="1"/>
<line x1="920.5" y1="78.06" x2="926.0" y2="78.06" stroke="#333" stroke-width="1"/>
<text x="0" y="0" font-family="Liberation Sans" font-size="22.5" fill="#222" text-anchor="end" transform="translate(916.40 84.81) scale(0.925 1)">0.8</text>
<line x1="923.0" y1="55.68" x2="926.0" y2="55.68" stroke="#333" stroke-width="1"/>
<line x1="920.5" y1="33.30" x2="926.0" y2="33.30" stroke="#333" stroke-width="1"/>
<text x="0" y="0" font-family="Liberation Sans" font-size="22.5" fill="#222" text-anchor="end" transform="translate(916.40 40.05) scale(0.925 1)">1.0</text>
<line x1="926.00" y1="259.5" x2="926.00" y2="264.5" stroke="#333" stroke-width="1"/>
<line x1="1010.38" y1="259.5" x2="1010.38" y2="264.5" stroke="#333" stroke-width="1"/>
<line x1="1094.75" y1="259.5" x2="1094.75" y2="264.5" stroke="#333" stroke-width="1"/>
<line x1="1179.12" y1="259.5" x2="1179.12" y2="264.5" stroke="#333" stroke-width="1"/>
<line x1="1263.50" y1="259.5" x2="1263.50" y2="264.5" stroke="#333" stroke-width="1"/>
<line x1="968.19" y1="259.5" x2="968.19" y2="262.5" stroke="#333" stroke-width="1"/>
<line x1="1052.56" y1="259.5" x2="1052.56" y2="262.5" stroke="#333" stroke-width="1"/>
<line x1="1136.94" y1="259.5" x2="1136.94" y2="262.5" stroke="#333" stroke-width="1"/>
<line x1="1221.31" y1="259.5" x2="1221.31" y2="262.5" stroke="#333" stroke-width="1"/>
<text x="925.60" y="284.80" font-family="Liberation Sans" font-size="21.5" fill="#222" text-anchor="middle">-1</text>
<text x="1009.98" y="284.80" font-family="Liberation Sans" font-size="21.5" fill="#222" text-anchor="middle">0</text>
<text x="1094.35" y="284.80" font-family="Liberation Sans" font-size="21.5" fill="#222" text-anchor="middle">1</text>
<text x="1178.72" y="284.80" font-family="Liberation Sans" font-size="21.5" fill="#222" text-anchor="middle">2</text>
<text x="1263.10" y="284.80" font-family="Liberation Sans" font-size="21.5" fill="#222" text-anchor="middle">3</text>
<text x="0" y="0" font-family="Liberation Sans" font-size="22" transform="translate(853.3 31.1) scale(1.1 1)">(c)</text>
<text x="0" y="0" font-family="Liberation Serif" font-size="22" fill="#222" text-anchor="middle" transform="translate(869.0 149.4) rotate(-90)">Spectral density</text>
<text x="0" y="0" font-family="Liberation Serif" font-size="22" fill="#222" transform="translate(1065.0 307.7) scale(1.015 1)"><tspan font-style="italic">x</tspan> (mm)</text>
<rect x="1089.5" y="19.5" width="167.00" height="86.00" fill="#fff" stroke="#c4c4c4" stroke-width="1"/>
<line x1="1097.5" y1="34.2" x2="1136.9" y2="34.2" stroke="#ff0000" stroke-width="1.6"/>
<text font-family="Liberation Serif" font-size="16.5" fill="#333"><tspan font-style="italic" x="1140.38" y="40.80">C</tspan><tspan font-style="italic" font-size="10.5" x="1151.52" y="46.60">n</tspan><tspan font-size="10.5" x="1156.84" y="32.00">2</tspan><tspan x="1161.57" y="40.10" letter-spacing="0.55">=0</tspan></text>
<line x1="1097.5" y1="62.7" x2="1136.9" y2="62.7" stroke="#00ff00" stroke-width="1.6"/>
<text font-family="Liberation Serif" font-size="16.5" fill="#333"><tspan font-style="italic" x="1140.38" y="69.30">C</tspan><tspan font-style="italic" font-size="10.5" x="1151.52" y="75.10">n</tspan><tspan font-size="10.5" x="1156.84" y="60.50">2</tspan><tspan x="1161.27" y="68.60" letter-spacing="0.55">=5X10</tspan><tspan font-size="10.5" x="1208.41" y="61.30">-14</tspan><tspan x="1222.75" y="68.60">m</tspan><tspan font-size="10.5" x="1235.21" y="61.30">-2/3</tspan></text>
<line x1="1097.5" y1="91.05" x2="1136.9" y2="91.05" stroke="#0000ff" stroke-width="1.6"/>
<text font-family="Liberation Serif" font-size="16.5" fill="#333"><tspan font-style="italic" x="1140.38" y="97.65">C</tspan><tspan font-style="italic" font-size="10.5" x="1151.52" y="103.45">n</tspan><tspan font-size="10.5" x="1156.84" y="88.85">2</tspan><tspan x="1161.27" y="96.95" letter-spacing="0.55">=5X10</tspan><tspan font-size="10.5" x="1208.41" y="89.65">-13</tspan><tspan x="1222.75" y="96.95">m</tspan><tspan font-size="10.5" x="1235.21" y="89.65">-2/3</tspan></text>
<text x="1119.7" y="131.9" font-family="Liberation Serif" font-size="16.5" fill="#333"><tspan font-style="italic">δ</tspan><tspan font-size="11" dy="5">0</tspan><tspan dy="-5">=6mm</tspan></text>
<text x="0" y="0" font-family="Liberation Serif" font-size="16.5" fill="#333" transform="translate(1194.0 131.9) scale(1.035 1)"><tspan font-style="italic">z</tspan>=2km</text>
</svg>
</body></html>
